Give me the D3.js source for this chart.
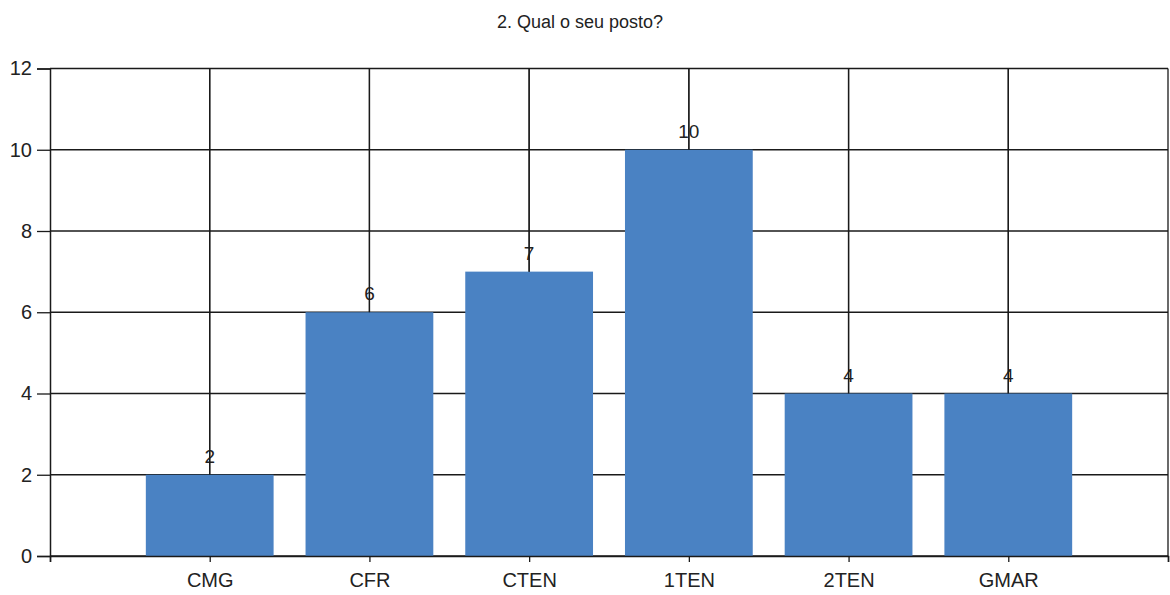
<!DOCTYPE html>
<html>
<head>
<meta charset="utf-8">
<script src="https://cdn.jsdelivr.net/npm/d3@7/dist/d3.min.js"></script>
<style>
  html, body { margin: 0; padding: 0; background: #fff; }
  svg { display: block; }
  text { font-family: "Liberation Sans", Arial, sans-serif; fill: #222; }
</style>
</head>
<body>
<svg id="chart" width="1170" height="595"></svg>
<script>
// Survey answers: "2. Qual o seu posto?"
const title = "2. Qual o seu posto?";
const categories = ["CMG", "CFR", "CTEN", "1TEN", "2TEN", "GMAR"];
const counts = [2, 6, 7, 10, 4, 4];
const yTicks = [0, 2, 4, 6, 8, 10, 12];

const plot = { left: 50, right: 1168, top: 68.5, bottom: 556 };
const lineColor = "#1a1a1a";
const lineWidth = 1.3;
const barColor = "#4a82c3";

const svg = d3.select("#chart");

// Categories sit at positions 1..n on a continuous axis with one empty slot on each side
const x = d3.scaleLinear()
  .domain([0, categories.length + 1])
  .range([plot.left, plot.right]);
const y = d3.scaleLinear()
  .domain([0, 12])
  .range([plot.bottom, plot.top]);
const barWidth = (x(1) - x(0)) * 0.8;

// Title
svg.append("text")
  .attr("x", 580)
  .attr("y", 28)
  .attr("text-anchor", "middle")
  .style("font-size", "18px")
  .text(title);

// Horizontal grid lines
svg.append("g")
  .selectAll("line")
  .data(yTicks)
  .join("line")
  .attr("x1", plot.left).attr("x2", plot.right)
  .attr("y1", d => y(d)).attr("y2", d => y(d))
  .attr("stroke", lineColor)
  .attr("stroke-width", lineWidth);

// Vertical grid lines at each category and at the right edge
const xPositions = categories.map((c, i) => i + 1);
svg.append("g")
  .selectAll("line")
  .data(xPositions.concat([categories.length + 1]))
  .join("line")
  .attr("x1", d => x(d)).attr("x2", d => x(d))
  .attr("y1", y(12)).attr("y2", y(0))
  .attr("stroke", lineColor)
  .attr("stroke-width", lineWidth);

// Bars
svg.append("g")
  .selectAll("rect")
  .data(counts)
  .join("rect")
  .attr("x", (d, i) => x(i + 1) - barWidth / 2)
  .attr("y", d => y(d))
  .attr("width", barWidth)
  .attr("height", d => y(0) - y(d))
  .attr("fill", barColor);

// Value labels
svg.append("g")
  .selectAll("text")
  .data(counts)
  .join("text")
  .attr("x", (d, i) => x(i + 1))
  .attr("y", d => y(d) - 12)
  .attr("text-anchor", "middle")
  .style("font-size", "19px")
  .text(d => d);

// Category grid lines pass over the value labels
svg.append("g")
  .selectAll("line")
  .data(counts)
  .join("line")
  .attr("x1", (d, i) => x(i + 1)).attr("x2", (d, i) => x(i + 1))
  .attr("y1", y(12)).attr("y2", d => y(d))
  .attr("stroke", lineColor)
  .attr("stroke-width", lineWidth);

// Left axis
const yAxis = svg.append("g")
  .attr("transform", `translate(${plot.left},0)`)
  .call(d3.axisLeft(y).tickValues(yTicks).tickSize(13).tickPadding(5).tickFormat(d3.format("d")));
yAxis.select(".domain").attr("stroke", lineColor).attr("stroke-width", 1.5);
yAxis.selectAll(".tick line").attr("stroke", lineColor).attr("stroke-width", lineWidth);
yAxis.selectAll(".tick text")
  .style("font-size", "20px")
  .style("font-family", "'Liberation Sans', Arial, sans-serif")
  .attr("fill", "#222");

// Bottom axis
const xAxis = svg.append("g")
  .attr("transform", `translate(0,${plot.bottom})`)
  .call(d3.axisBottom(x)
    .tickValues(d3.range(0, categories.length + 2))
    .tickSize(6)
    .tickPadding(11)
    .tickFormat(d => categories[d - 1] || ""));
xAxis.select(".domain").attr("stroke", lineColor).attr("stroke-width", 1.5);
xAxis.selectAll(".tick line").attr("stroke", lineColor).attr("stroke-width", lineWidth);
xAxis.selectAll(".tick text")
  .style("font-size", "20px")
  .style("font-family", "'Liberation Sans', Arial, sans-serif")
  .attr("fill", "#222");
</script>
</body>
</html>
